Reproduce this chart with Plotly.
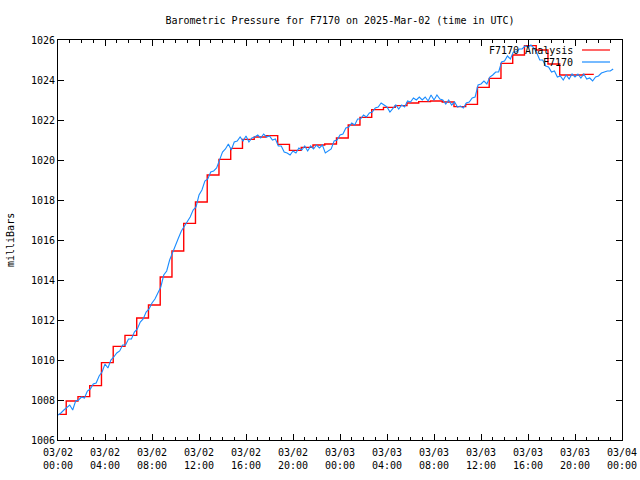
import plotly.graph_objects as go
from datetime import datetime, timedelta

title_text = "Barometric Pressure for F7170 on 2025-Mar-02 (time in UTC)"
y_label = "milliBars"
analysis_name = "F7170 Analysis"
obs_name = "F7170"

start = datetime(2025, 3, 2, 0, 0)

# Observed pressure (mb), every 15 minutes from 03/02 00:00
blue_step_min = 15
blue_values = [
    1007.25, 1007.35, 1007.5, 1007.65, 1007.75, 1007.5, 1007.95, 1008.0,
    1008.15, 1008.1, 1008.45, 1008.55, 1008.8, 1008.85, 1009.2, 1009.4,
    1009.8, 1009.6, 1010.0, 1010.15, 1010.35, 1010.45, 1010.75, 1010.75,
    1011.05, 1011.05, 1011.4, 1011.55, 1011.9, 1012.05, 1012.4, 1012.55,
    1012.85, 1013.05, 1013.35, 1013.65, 1014.25, 1014.45, 1015.0, 1015.4,
    1015.8, 1016.1, 1016.45, 1016.7, 1016.95, 1017.15, 1017.5, 1017.65,
    1018.25, 1018.5, 1018.95, 1019.05, 1019.4, 1019.45, 1019.6, 1020.05,
    1020.4, 1020.55, 1020.8, 1020.5, 1020.9, 1020.95, 1021.15, 1020.95,
    1021.2, 1020.9, 1021.1, 1021.15, 1021.25, 1021.1, 1021.3, 1021.15,
    1021.2, 1021.0, 1021.05, 1020.7, 1020.7, 1020.4, 1020.35, 1020.25,
    1020.45, 1020.35, 1020.6, 1020.5, 1020.7, 1020.45, 1020.7, 1020.55,
    1020.75, 1020.6, 1020.75, 1020.35, 1020.45, 1020.55, 1020.95, 1021.0,
    1021.25, 1021.3, 1021.6, 1021.65, 1021.85, 1021.75, 1022.05, 1022.05,
    1022.25, 1022.15, 1022.35, 1022.4, 1022.6, 1022.65, 1022.85, 1022.75,
    1022.65, 1022.4, 1022.6, 1022.75, 1022.55, 1022.75, 1022.65, 1022.95,
    1022.9, 1023.1, 1023.0, 1023.15, 1023.0, 1023.15, 1022.95, 1023.25,
    1023.0, 1023.25, 1023.05, 1023.0, 1022.8, 1023.0, 1022.75, 1022.9,
    1022.65, 1022.7, 1022.6, 1022.85, 1022.9, 1023.1, 1023.15, 1023.75,
    1023.8, 1023.95, 1023.8, 1024.15, 1024.25, 1024.4, 1024.4, 1024.9,
    1024.95, 1025.2, 1025.05, 1025.4, 1025.4, 1025.55, 1025.55, 1025.7,
    1025.65, 1025.75, 1025.6, 1025.35, 1025.0, 1025.0, 1024.7, 1024.65,
    1024.4, 1024.45, 1024.15, 1024.2, 1024.0, 1024.25, 1024.05, 1024.3,
    1024.15, 1024.3, 1024.1, 1024.3, 1024.05, 1024.1, 1023.95, 1024.15,
    1024.2, 1024.35, 1024.4, 1024.45, 1024.45, 1024.55,
]

# Hourly analysis (mb), each value held until the next analysis time
red_values = [
    1007.28, 1007.95, 1008.17, 1008.72, 1009.87, 1010.68, 1011.23, 1012.1,
    1012.75, 1014.15, 1015.45, 1016.83, 1017.9, 1019.25, 1020.03, 1020.58,
    1021.03, 1021.15, 1021.22, 1020.78, 1020.48, 1020.63, 1020.75, 1020.8,
    1021.1, 1021.75, 1022.13, 1022.52, 1022.63, 1022.72, 1022.85, 1022.92,
    1022.95, 1022.9, 1022.67, 1022.78, 1023.63, 1024.08, 1024.83, 1025.25,
    1025.72, 1025.5, 1024.8, 1024.25, 1024.25, 1024.28,
]
red_first_min = 6
red_minute_of_hour = 42
red_end_min = 45 * 60 + 36

tick_hours = [0, 4, 8, 12, 16, 20, 24, 28, 32, 36, 40, 44, 48]
tick_labels = [
    "03/02<br>00:00", "03/02<br>04:00", "03/02<br>08:00", "03/02<br>12:00",
    "03/02<br>16:00", "03/02<br>20:00", "03/03<br>00:00", "03/03<br>04:00",
    "03/03<br>08:00", "03/03<br>12:00", "03/03<br>16:00", "03/03<br>20:00",
    "03/04<br>00:00",
]

blue_x = [start + timedelta(minutes=blue_step_min * i) for i in range(len(blue_values))]
red_x = [start + timedelta(minutes=red_first_min)] + [
    start + timedelta(hours=k, minutes=red_minute_of_hour) for k in range(len(red_values) - 1)
] + [start + timedelta(minutes=red_end_min)]
red_y = red_values + [red_values[-1]]
tick_vals = [start + timedelta(hours=h) for h in tick_hours]

FONT = "DejaVu Sans Mono"
RED = "#ff0000"
BLUE = "#1a8cff"

fig = go.Figure()
fig.add_trace(go.Scatter(x=red_x, y=red_y, mode="lines", name=analysis_name,
                         line=dict(color=RED, width=1.4, shape="hv")))
fig.add_trace(go.Scatter(x=blue_x, y=blue_values, mode="lines", name=obs_name,
                         line=dict(color=BLUE, width=1.1)))

fig.update_layout(
    width=640, height=480,
    margin=dict(l=58, r=18, t=40, b=40, autoexpand=False),
    paper_bgcolor="white", plot_bgcolor="white",
    showlegend=False,
    font=dict(family=FONT, size=10, color="black"),
    title=dict(text=title_text, x=340 / 640, xanchor="center",
               y=1 - 20 / 480, yanchor="middle",
               font=dict(family=FONT, size=10, color="black")),
)
fig.update_xaxes(
    automargin=False,
    range=[tick_vals[0], tick_vals[-1]],
    tickvals=tick_vals, ticktext=tick_labels,
    ticks="inside", ticklen=6, tickcolor="black",
    minor=dict(dtick=3600000, ticks="inside", ticklen=3, tickcolor="black"),
    showline=True, linecolor="black", linewidth=1, mirror="ticks",
    showgrid=False, zeroline=False, ticklabelstandoff=3,
    tickfont=dict(family=FONT, size=10),
)
fig.update_yaxes(
    automargin=False,
    range=[1006, 1026], dtick=2, tick0=1006, tickformat="d",
    ticks="inside", ticklen=6, tickcolor="black",
    showline=True, linecolor="black", linewidth=1, mirror="ticks",
    showgrid=False, zeroline=False,
    tickfont=dict(family=FONT, size=10),
)

fig.add_annotation(text=y_label, xref="paper", yref="paper",
                   x=(10 - 58) / 564, y=0.5, textangle=-90, showarrow=False,
                   xanchor="center", yanchor="middle",
                   font=dict(family=FONT, size=10))

# gnuplot-style key: text right-aligned with sample line to its right
key_items = [(analysis_name, RED, 50), (obs_name, BLUE, 62)]
for name, col, ypx in key_items:
    yp = 1 - (ypx - 40) / 400
    fig.add_annotation(text=name, xref="paper", yref="paper",
                       x=(575 - 58) / 564, y=yp, xanchor="right", yanchor="middle",
                       showarrow=False, font=dict(family=FONT, size=10))
    fig.add_shape(type="line", xref="paper", yref="paper",
                  x0=(582 - 58) / 564, x1=(610 - 58) / 564, y0=yp, y1=yp,
                  line=dict(color=col, width=1.2))

# remove the browser's default 8px page margin so the 640x480 figure fills the window
fig.write_html("out.html", config={"displayModeBar": False},
               post_script="document.body.style.margin='0px';")
